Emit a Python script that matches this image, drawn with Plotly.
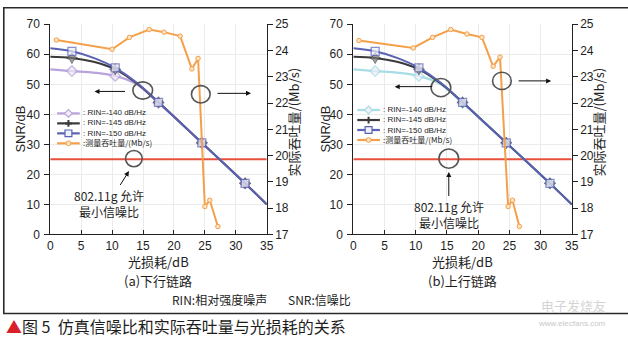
import plotly.graph_objects as go

# ---------------- data ----------------
loss_db = [0, 3.5, 7, 10.5, 14, 17.5, 21, 24.5, 28, 31.5, 35]
snr_rin150 = [62, 61, 58.8, 55.5, 50.5, 44, 37.3, 30.5, 23.8, 17, 10]
snr_rin145 = [59.2, 58.8, 57.5, 55, 50.3, 44, 37.3, 30.5, 23.8, 17, 10]
snr_rin140 = [55, 54.4, 53.9, 52.8, 50, 43.8, 37.3, 30.5, 23.8, 17, 10]
marker_on = [0, 1, 0, 1, 0, 1, 0, 1, 0, 1, 0]

thr_loss_a = [1, 10, 12.8, 16, 18.4, 21, 22.9, 23.9, 25, 25.8, 27.1]
thr_a = [24.4, 24.05, 24.5, 24.8, 24.7, 24.55, 23.3, 23.7, 18.06, 18.3, 17.3]
thr_loss_b = [0.9, 9.6, 12.7, 15.6, 18.2, 20.6, 22.4, 23.5, 24.8, 25.5, 26.6]
thr_b = [24.38, 24.1, 24.5, 24.8, 24.63, 24.5, 23.4, 23.75, 18.06, 18.3, 17.3]

min_snr = 25
x_range = [0, 35]
snr_ticks = [0, 10, 20, 30, 40, 50, 60, 70]
thr_ticks = [17, 18, 19, 20, 21, 22, 23, 24, 25]
x_ticks = [0, 5, 10, 15, 20, 25, 30, 35]
legend_labels = [": RIN=-140 dB/Hz", ": RIN=-145 dB/Hz", ": RIN=-150 dB/Hz", ":测量吞吐量/(Mb/s)"]

W, H = 628, 345
def X(px):
    return px / W
def Y(py):
    return 1 - py / H

BLUE = "#5a62b4"
BLACK = "#3a3a3a"
PURPLE = "#b9a3dc"
CYAN = "#a8dde6"
ORANGE = "#f4a04a"
RED = "#e8503c"
TXT = "#1e1e1e"
FONT = "Liberation Sans, Arial, sans-serif"
CJK = "Noto Sans CJK SC"

fig = go.Figure()

def msize(s):
    return [s * m for m in marker_on]

def add_panel(xa, ya, ya2, c140, tl, tv):
    fig.add_trace(go.Scatter(x=x_range, y=[min_snr, min_snr], mode="lines",
                             line=dict(color=RED, width=2), xaxis=xa, yaxis=ya, showlegend=False))
    fig.add_trace(go.Scatter(x=loss_db, y=snr_rin140, mode="lines+markers",
                             line=dict(color=c140, width=2.2, shape="spline"),
                             marker=dict(symbol="diamond", size=msize(8), color="#f2eefa",
                                         line=dict(color=c140, width=1.5)),
                             xaxis=xa, yaxis=ya, showlegend=False))
    fig.add_trace(go.Scatter(x=loss_db, y=snr_rin145, mode="lines+markers",
                             line=dict(color=BLACK, width=2, shape="spline"),
                             marker=dict(symbol="star-diamond", size=msize(8), color="#777777",
                                         line=dict(color=BLACK, width=1)),
                             xaxis=xa, yaxis=ya, showlegend=False))
    fig.add_trace(go.Scatter(x=loss_db, y=snr_rin150, mode="lines+markers",
                             line=dict(color=BLUE, width=2, shape="spline"),
                             marker=dict(symbol="square", size=msize(8), color="#eef0fb",
                                         line=dict(color=BLUE, width=1.3)),
                             xaxis=xa, yaxis=ya, showlegend=False))
    fig.add_trace(go.Scatter(x=tl, y=tv, mode="lines+markers",
                             line=dict(color=ORANGE, width=2),
                             marker=dict(symbol="circle", size=4.5, color="#fde3c6",
                                         line=dict(color=ORANGE, width=1)),
                             xaxis=xa, yaxis=ya2, showlegend=False))

add_panel("x", "y", "y2", PURPLE, thr_loss_a, thr_a)
add_panel("x2", "y3", "y4", CYAN, thr_loss_b, thr_b)

ytop, ybot = 18, 237
dom_y = [Y(ybot), Y(ytop)]
tickfont = dict(family=FONT, size=12, color=TXT)

def xaxis_cfg(d):
    return dict(domain=d, range=x_range, tickvals=x_ticks, ticks="inside", ticklen=4,
                tickcolor="#222", showline=True, linecolor="#222", linewidth=1,
                showgrid=True, gridcolor="#ebebeb", gridwidth=1, zeroline=False,
                tickfont=tickfont, fixedrange=True)

def yleft_cfg(anchor):
    return dict(domain=dom_y, range=[0, 70], tickvals=snr_ticks, ticks="outside", ticklen=5,
                tickcolor="#222", showline=True, linecolor="#222", linewidth=1,
                showgrid=True, gridcolor="#ebebeb", gridwidth=1, zeroline=False,
                anchor=anchor, tickfont=tickfont, ticklabelstandoff=2)

def yright_cfg(anchor, over):
    return dict(range=[17, 25], tickvals=thr_ticks, ticks="outside", ticklen=5,
                tickcolor="#222", showline=True, linecolor="#222", linewidth=1,
                showgrid=False, zeroline=False, side="right", overlaying=over,
                anchor=anchor, tickfont=tickfont)

fig.update_layout(
    width=W, height=H, autosize=False,
    margin=dict(l=0, r=0, t=0, b=0),
    paper_bgcolor="white", plot_bgcolor="white",
    xaxis=dict(xaxis_cfg([X(48), X(268)]), anchor="y"),
    yaxis=yleft_cfg("x"),
    yaxis2=yright_cfg("x", "y"),
    xaxis2=dict(xaxis_cfg([X(356), X(578)]), anchor="y3"),
    yaxis3=yleft_cfg("x2"),
    yaxis4=yright_cfg("x2", "y3"),
    showlegend=False,
)

shapes = []
ann = []

def text(px, py, s, size=12, family=CJK, angle=0, xanchor="center", color=TXT):
    ann.append(dict(x=X(px), y=Y(py), xref="paper", yref="paper", text=s, showarrow=False,
                    font=dict(family=family, size=size, color=color), textangle=angle,
                    xanchor=xanchor, yanchor="middle"))

def circle(cx, cy, rx, ry):
    shapes.append(dict(type="circle", xref="paper", yref="paper",
                       x0=X(cx - rx), x1=X(cx + rx), y0=Y(cy + ry), y1=Y(cy - ry),
                       line=dict(color="#555555", width=1.6)))

def arrow(tx, ty, hx, hy, label="", size=12):
    ann.append(dict(x=X(hx), y=Y(hy), xref="paper", yref="paper", ax=tx - hx, ay=ty - hy,
                    text=label, showarrow=True, arrowhead=2, arrowsize=1, arrowwidth=1,
                    arrowcolor="#111111", font=dict(family=CJK, size=size, color=TXT)))

NOTE = "802.11g 允许<br>最小信噪比"
# panel annotations (a)
circle(142, 87, 10, 9); arrow(125, 88, 93, 88)
circle(201, 91, 9.5, 9); arrow(217, 90, 252, 90)
circle(133, 158, 8.5, 8.5); arrow(108, 203, 128, 171, NOTE, 12)
# panel annotations (b)
circle(445, 84, 10, 9.5); arrow(437, 83, 398, 83)
circle(507, 77, 9.5, 9); arrow(523, 77, 557, 77)
circle(453, 158, 10, 10); arrow(453, 214, 453, 172, NOTE, 12)

# axis titles
for lx, rx, cx in [(18, 295, 158), (328, 605, 467)]:
    text(lx, 127, "SNR/dB", 13, FONT, -90)
    text(rx, 120, "实际吞吐量/(Mb/s)", 13, CJK, -90)
    text(cx, 265, "光损耗/dB", 13)
text(158, 285, "(a)下行链路", 13)
text(467, 285, "(b)上行链路", 13)

text(170, 305, "RIN:相对强度噪声", 12, xanchor="left")
text(288, 305, "SNR:信噪比", 12, xanchor="left")
text(1, 333, "<span style='color:#d8202a'>▲</span>图 5  仿真信噪比和实际吞吐量与光损耗的关系", 16, xanchor="left")

# watermark
text(580, 311, "电子发烧友", 13, color="#d4d4d4")
text(578, 330, "www.elecfans.com", 8, FONT, color="#c8c8c8")

# manual legends
LS = 8 * 1.3
def legend(x0, yc, c140):
    syms = [(c140, "diamond"), (BLACK, "star"), (BLUE, "square"), (ORANGE, "circle")]
    for i, (c, sym) in enumerate(syms):
        yy = yc + (i - 1.5) * LS
        shapes.append(dict(type="line", xref="paper", yref="paper", x0=X(x0), x1=X(x0 + 23),
                           y0=Y(yy), y1=Y(yy), line=dict(color=c, width=2.2)))
        mx = x0 + 11.5
        if sym == "circle":
            shapes.append(dict(type="circle", xref="paper", yref="paper", x0=X(mx - 2.5), x1=X(mx + 2.5),
                               y0=Y(yy + 2.5), y1=Y(yy - 2.5), fillcolor="#fde3c6",
                               line=dict(color=c, width=1)))
        elif sym == "square":
            shapes.append(dict(type="rect", xref="paper", yref="paper", x0=X(mx - 3.5), x1=X(mx + 3.5),
                               y0=Y(yy + 3.5), y1=Y(yy - 3.5), fillcolor="#eef0fb",
                               line=dict(color=c, width=1.2)))
        elif sym == "diamond":
            p = f"M {X(mx-4)} {Y(yy)} L {X(mx)} {Y(yy-4)} L {X(mx+4)} {Y(yy)} L {X(mx)} {Y(yy+4)} Z"
            shapes.append(dict(type="path", xref="paper", yref="paper", path=p,
                               fillcolor="#f2eefa", line=dict(color=c, width=1.2)))
        else:
            p = (f"M {X(mx-3.5)} {Y(yy)} L {X(mx+3.5)} {Y(yy)} M {X(mx)} {Y(yy-3.5)} "
                 f"L {X(mx)} {Y(yy+3.5)}")
            shapes.append(dict(type="path", xref="paper", yref="paper", path=p,
                               line=dict(color=c, width=2)))
    lab = "<br>".join(legend_labels[:3] + [f"<span style='font-family:{CJK}'>{legend_labels[3]}</span>"])
    ann.append(dict(x=X(x0 + 24), y=Y(yc), xref="paper", yref="paper", text=lab, align="left",
                    showarrow=False, xanchor="left", yanchor="middle",
                    font=dict(family=FONT, size=8, color=TXT)))

legend(55, 126.5, PURPLE)
legend(360, 123, CYAN)

# figure border
shapes.append(dict(type="rect", xref="paper", yref="paper", x0=X(0.8), x1=X(640), y0=Y(319.5), y1=Y(0.8),
                   line=dict(color="#2a2a2a", width=1.6)))

fig.update_layout(shapes=shapes, annotations=ann)
fig.write_html("out.html")
